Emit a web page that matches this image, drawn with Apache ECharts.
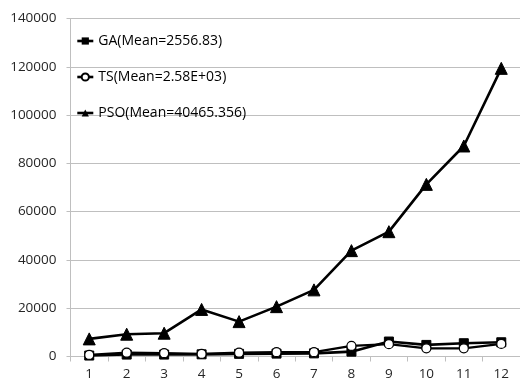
<!DOCTYPE html>
<html>
<head>
<meta charset="utf-8">
<script src="https://cdn.jsdelivr.net/npm/echarts@6/dist/echarts.min.js"></script>
<style>
  html, body { margin: 0; padding: 0; background: #fff; }
  #chart { width: 520px; height: 385px; }
</style>
</head>
<body>
<div id="chart"></div>
<script>
// Problem instances 1..12 on the x axis
const categories = ['1', '2', '3', '4', '5', '6', '7', '8', '9', '10', '11', '12'];

// Result per instance for each algorithm
const gaValues  = [400, 800, 800, 900, 1100, 1200, 1300, 2000, 6200, 4800, 5500, 5900];
const tsValues  = [660, 1600, 1370, 1080, 1600, 1780, 1780, 4400, 5100, 3400, 3400, 5200];
const psoValues = [7300, 9240, 9650, 19500, 14450, 20650, 27600, 43850, 51700, 71300, 87200, 119350];

const seriesNames = ['GA(Mean=2556.83)', 'TS(Mean=2.58E+03)', 'PSO(Mean=40465.356)'];

// Y axis ticks
const yMin = 0, yMax = 140000, yStep = 20000;

const font = 'Open Sans, Liberation Sans, sans-serif';
const chart = echarts.init(document.getElementById('chart'), null, { renderer: 'canvas' });

const lineStyle = { color: '#000', width: 2.6 };

chart.setOption({
  animation: false,
  backgroundColor: '#fff',
  grid: { left: 70.5, top: 18.5, width: 452, height: 338, containLabel: false },
  legend: {
    left: 71, top: 29, orient: 'vertical', itemGap: 22,
    itemWidth: 16, itemHeight: 9,
    lineStyle: { width: 2.6, color: '#000' },
    textStyle: { fontFamily: font, fontSize: 14, color: '#000' },
    data: seriesNames
  },
  xAxis: {
    type: 'category', data: categories, boundaryGap: true,
    axisLine: { lineStyle: { color: '#bfbfbf', width: 1 } },
    axisTick: { show: true, length: 5, lineStyle: { color: '#bfbfbf' } },
    axisLabel: { fontFamily: font, fontSize: 13.5, color: '#262626', margin: 11 }
  },
  yAxis: {
    type: 'value', min: yMin, max: yMax, interval: yStep,
    axisLine: { show: true, lineStyle: { color: '#bfbfbf', width: 1 } },
    axisTick: { show: true, length: 4, lineStyle: { color: '#bfbfbf' } },
    splitLine: { lineStyle: { color: '#bfbfbf', width: 1 } },
    axisLabel: {
      fontFamily: font, fontSize: 13.5, color: '#262626', margin: 14,
      formatter: v => String(v)
    }
  },
  series: [
    {
      name: seriesNames[0], type: 'line', data: gaValues,
      symbol: 'rect', symbolSize: 9,
      itemStyle: { color: '#000', borderColor: '#000' },
      lineStyle: lineStyle, z: 2
    },
    {
      name: seriesNames[1], type: 'line', data: tsValues,
      symbol: 'circle', symbolSize: 9,
      itemStyle: { color: '#fff', borderColor: '#000', borderWidth: 1.2 },
      lineStyle: { color: '#000', width: 2.2 }, z: 3
    },
    {
      name: seriesNames[2], type: 'line', data: psoValues,
      symbol: 'triangle', symbolSize: 12,
      itemStyle: { color: '#000', borderColor: '#000' },
      lineStyle: lineStyle, z: 4
    }
  ]
});
</script>
</body>
</html>
